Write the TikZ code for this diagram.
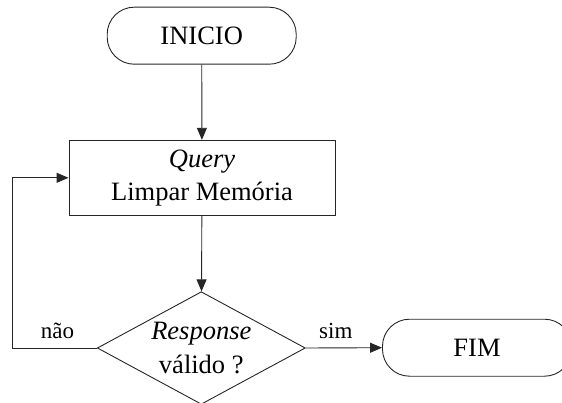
\documentclass[tikz,border=0pt]{standalone}
\usepackage{fontspec}
\setmainfont{Liberation Serif}
\usetikzlibrary{shapes.geometric,arrows.meta}
\begin{document}
\begin{tikzpicture}[x=1pt,y=-1pt,
  every node/.style={font=\fontsize{26.5}{33.4}\selectfont, inner sep=0pt},
  line/.style={line width=0.9pt, draw=black!85},
  term/.style={line, rectangle, rounded corners=27pt, minimum width=189pt, minimum height=57pt},
  procbox/.style={line, rectangle, minimum width=266pt, minimum height=75pt, align=center},
  decbox/.style={line, diamond, minimum width=208pt, minimum height=112.6pt, align=center, aspect=1.85},
  arr/.style={line, -{Triangle[length=12pt,width=10pt]}},
  lbl/.style={font=\fontsize{23}{27}\selectfont, anchor=base}]
\useasboundingbox (0,0) rectangle (562,403);
\clip (0,0) rectangle (562,403);
\node[term] (ini) at (201.7,35.7) {INICIO};
\node[procbox] (proc) at (202,177.8) {\textit{Query}\\Limpar Memória};
\node[decbox] (dec) at (201.3,348) {\makebox[0pt]{\textit{Response}}\\\makebox[0pt]{válido ?}};
\node[term] (fim) at (477,347.7) {FIM};
\coordinate (c1) at (12.3,348);
\coordinate (c2) at (12.3,177.8);
\draw[arr] (ini) -- (proc);
\draw[arr] (proc) -- (dec);
\draw[arr] (dec.west) -- (c1) -- (c2) -- (proc.west);
\draw[arr] (dec.east) -- (fim.west);
\node[lbl] (nao) at (57.5,338.3) {não};
\node[lbl] (sim) at (335.8,338.3) {sim};
\end{tikzpicture}
\end{document}
